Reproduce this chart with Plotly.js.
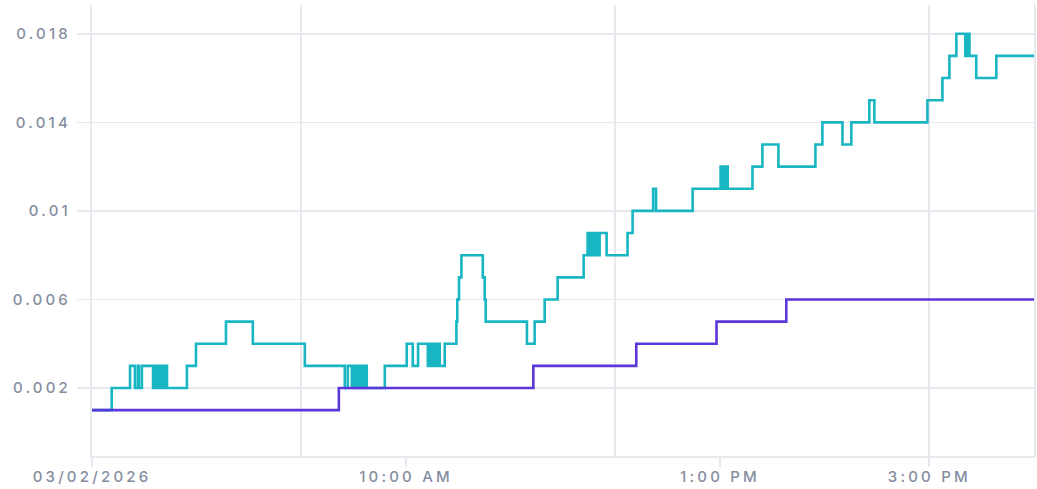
<!DOCTYPE html>
<html>
<head>
<meta charset="utf-8">
<script src="https://cdn.plot.ly/plotly-3.0.1.min.js"></script>
<style>
  html, body { margin: 0; padding: 0; background: #fff; }
  #chart { width: 1037px; height: 489px; }
  .xtick text, .ytick text { letter-spacing: 3.2px; }
</style>
</head>
<body>
<div id="chart"></div>
<script>
// ---- Data ----
const tealTimes = [
  "2026-03-02 07:00:00","2026-03-02 07:11:18","2026-03-02 07:21:48","2026-03-02 07:24:36",
  "2026-03-02 07:26:18","2026-03-02 07:26:54","2026-03-02 07:28:36","2026-03-02 07:35:00",
  "2026-03-02 07:35:40","2026-03-02 07:36:20","2026-03-02 07:37:00","2026-03-02 07:37:40",
  "2026-03-02 07:38:20","2026-03-02 07:39:00","2026-03-02 07:39:40","2026-03-02 07:40:20",
  "2026-03-02 07:41:00","2026-03-02 07:41:40","2026-03-02 07:42:20","2026-03-02 07:43:00",
  "2026-03-02 07:54:24","2026-03-02 07:59:36","2026-03-02 08:16:48","2026-03-02 08:32:12",
  "2026-03-02 09:02:00","2026-03-02 09:24:54","2026-03-02 09:26:38","2026-03-02 09:28:56",
  "2026-03-02 09:29:40","2026-03-02 09:30:20","2026-03-02 09:31:00","2026-03-02 09:31:40",
  "2026-03-02 09:32:20","2026-03-02 09:33:00","2026-03-02 09:33:40","2026-03-02 09:34:20",
  "2026-03-02 09:35:00","2026-03-02 09:35:24","2026-03-02 09:36:00","2026-03-02 09:37:30",
  "2026-03-02 09:47:50","2026-03-02 10:00:25","2026-03-02 10:03:52","2026-03-02 10:06:55",
  "2026-03-02 10:12:30","2026-03-02 10:13:10","2026-03-02 10:13:50","2026-03-02 10:14:30",
  "2026-03-02 10:15:10","2026-03-02 10:15:50","2026-03-02 10:16:30","2026-03-02 10:17:10",
  "2026-03-02 10:17:50","2026-03-02 10:18:30","2026-03-02 10:19:20","2026-03-02 10:22:12",
  "2026-03-02 10:28:53","2026-03-02 10:29:24","2026-03-02 10:30:24","2026-03-02 10:31:46",
  "2026-03-02 10:44:00","2026-03-02 10:45:06","2026-03-02 10:45:42","2026-03-02 11:09:20",
  "2026-03-02 11:13:45","2026-03-02 11:19:30","2026-03-02 11:26:55","2026-03-02 11:41:50",
  "2026-03-02 11:44:06","2026-03-02 11:44:50","2026-03-02 11:45:30","2026-03-02 11:46:10",
  "2026-03-02 11:46:50","2026-03-02 11:47:30","2026-03-02 11:48:10","2026-03-02 11:48:50",
  "2026-03-02 11:49:30","2026-03-02 11:50:10","2026-03-02 11:51:00","2026-03-02 11:55:00",
  "2026-03-02 12:07:00","2026-03-02 12:09:54","2026-03-02 12:21:40","2026-03-02 12:23:20",
  "2026-03-02 12:44:18","2026-03-02 13:00:20","2026-03-02 13:01:00","2026-03-02 13:01:40",
  "2026-03-02 13:02:20","2026-03-02 13:03:00","2026-03-02 13:04:24","2026-03-02 13:18:36",
  "2026-03-02 13:24:18","2026-03-02 13:33:30","2026-03-02 13:54:42","2026-03-02 13:58:42",
  "2026-03-02 14:10:12","2026-03-02 14:15:18","2026-03-02 14:25:36","2026-03-02 14:28:30",
  "2026-03-02 14:58:54","2026-03-02 15:07:30","2026-03-02 15:11:30","2026-03-02 15:15:30",
  "2026-03-02 15:20:36","2026-03-02 15:21:10","2026-03-02 15:21:50","2026-03-02 15:22:30",
  "2026-03-02 15:23:00","2026-03-02 15:26:54","2026-03-02 15:38:24","2026-03-02 16:00:00"
];
const tealValues = [
  0.001,0.002,0.003,0.002,
  0.003,0.002,0.003,0.002,
  0.003,0.002,0.003,0.002,
  0.003,0.002,0.003,0.002,
  0.003,0.002,0.003,0.002,
  0.003,0.004,0.005,0.004,
  0.003,0.002,0.003,0.002,
  0.003,0.002,0.003,0.002,
  0.003,0.002,0.003,0.002,
  0.003,0.002,0.003,0.002,
  0.003,0.004,0.003,0.004,
  0.003,0.004,0.003,0.004,
  0.003,0.004,0.003,0.004,
  0.003,0.004,0.003,0.004,
  0.005,0.006,0.007,0.008,
  0.007,0.006,0.005,0.004,
  0.005,0.006,0.007,0.008,
  0.009,0.008,0.009,0.008,
  0.009,0.008,0.009,0.008,
  0.009,0.008,0.009,0.008,
  0.009,0.010,0.011,0.010,
  0.011,0.012,0.011,0.012,
  0.011,0.012,0.011,0.012,
  0.013,0.012,0.013,0.014,
  0.013,0.014,0.015,0.014,
  0.015,0.016,0.017,0.018,
  0.017,0.018,0.017,0.018,
  0.017,0.016,0.017,0.017
];
const purpleTimes = [
  "2026-03-02 07:00:00","2026-03-02 09:21:30","2026-03-02 11:13:00","2026-03-02 12:12:00",
  "2026-03-02 12:58:00","2026-03-02 13:38:00","2026-03-02 16:00:00"
];
const purpleValues = [0.001,0.002,0.003,0.004,0.005,0.006,0.006];

const xTickVals = ["2026-03-02 07:00","2026-03-02 10:00","2026-03-02 13:00","2026-03-02 15:00"];
const xTickText = ["03/02/2026","10:00 AM","1:00 PM","3:00 PM"];
const xGridVals = ["2026-03-02 09:00","2026-03-02 12:00","2026-03-02 15:00"];
const yTickVals = [0.002,0.006,0.010,0.014,0.018];
const yTickText = ["0.002","0.006","0.01","0.014","0.018"];

// ---- Chart ----
const gridColor = "#e7e9ee";
const labelColor = "#858ea1";
const tickFont = {family: "Inter, sans-serif", size: 15, weight: 500, color: labelColor};
const traces = [
  {x: tealTimes, y: tealValues, type: "scatter", mode: "lines",
   line: {shape: "hv", color: "#18b6c3", width: 2.6}, hoverinfo: "skip"},
  {x: purpleTimes, y: purpleValues, type: "scatter", mode: "lines",
   line: {shape: "hv", color: "#5b36d8", width: 2.6}, hoverinfo: "skip"}
];
const layout = {
  width: 1037, height: 489,
  margin: {l: 92, r: 3, t: 5, b: 33},
  paper_bgcolor: "#fff", plot_bgcolor: "#fff",
  showlegend: false,
  font: {family: "Inter, sans-serif", size: 15, color: labelColor},
  xaxis: {
    type: "date",
    range: ["2026-03-02 07:00", "2026-03-02 16:00"],
    tickmode: "array", tickvals: xTickVals, ticktext: xTickText,
    showgrid: false, zeroline: false,
    showline: true, linecolor: gridColor, linewidth: 2,
    ticks: "outside", ticklen: 9, tickwidth: 2, tickcolor: gridColor,
    ticklabelstandoff: -3,
    tickfont: tickFont,
    minor: {tickmode: "array", tickvals: xGridVals, showgrid: true,
            gridcolor: gridColor, gridwidth: 2, ticks: ""}
  },
  yaxis: {
    range: [-0.00107, 0.0193],
    tickmode: "array", tickvals: yTickVals, ticktext: yTickText,
    showgrid: true, gridcolor: gridColor, gridwidth: 1.5,
    zeroline: false,
    showline: true, linecolor: gridColor, linewidth: 2, mirror: true,
    ticks: "outside", ticklen: 13, tickwidth: 1.5, tickcolor: gridColor,
    ticklabelstandoff: 3,
    tickfont: tickFont
  }
};
Plotly.newPlot("chart", traces, layout, {displayModeBar: false, staticPlot: true});
</script>
</body>
</html>
